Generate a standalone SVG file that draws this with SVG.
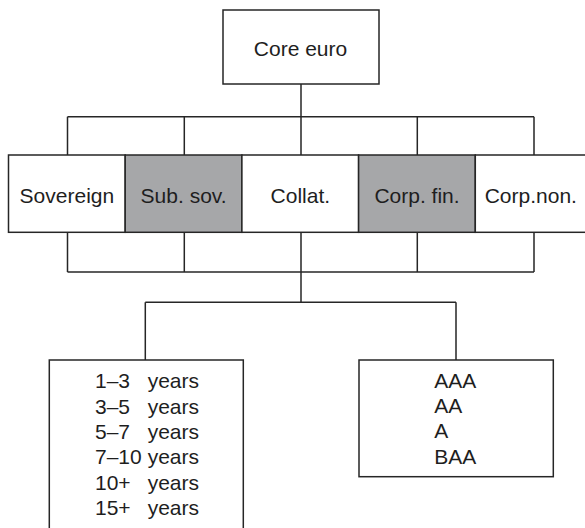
<svg xmlns="http://www.w3.org/2000/svg" width="585" height="528" viewBox="0 0 585 528">
  <style>
    .box { fill: #ffffff; stroke: #262626; stroke-width: 1.5; }
    .shade { fill: #a6a7a9; }
    .wire { fill: none; stroke: #262626; stroke-width: 1.5; }
    text { font-family: "Liberation Sans", Arial, sans-serif; font-size: 21px; fill: #1e1e1e; }
    .mid { text-anchor: middle; }
  </style>

  <rect width="585" height="528" fill="#ffffff"/>

  <!-- connectors -->
  <g id="connectors" class="wire">
    <path d="M301,84 V116.7"/>
    <path d="M67.5,116.7 H534"/>
    <path d="M67.5,116.7 V155 M184.3,116.7 V155 M301,116.7 V155 M417.3,116.7 V155 M534,116.7 V155"/>
    <path d="M67.5,232.3 V272 M184.3,232.3 V272 M301,232.3 V272 M417.3,232.3 V272 M534,232.3 V272"/>
    <path d="M67.5,272 H534"/>
    <path d="M301,272 V302.3"/>
    <path d="M145.3,302.3 H456"/>
    <path d="M145.3,302.3 V360 M456,302.3 V360"/>
  </g>

  <!-- root -->
  <g id="core-euro">
    <rect class="box" x="223" y="10" width="156" height="74"/>
    <text class="mid" x="300.5" y="55.5">Core euro</text>
  </g>

  <!-- issuer sectors -->
  <g id="sovereign">
    <rect class="box" x="8.5" y="155" width="116.7" height="77.3"/>
    <text class="mid" x="66.9" y="202.5">Sovereign</text>
  </g>
  <g id="sub-sov">
    <rect class="box shade" x="125.2" y="155" width="116.7" height="77.3"/>
    <text class="mid" x="183.6" y="202.5">Sub. sov.</text>
  </g>
  <g id="collat">
    <rect class="box" x="241.9" y="155" width="116.7" height="77.3"/>
    <text class="mid" x="300.3" y="202.5">Collat.</text>
  </g>
  <g id="corp-fin">
    <rect class="box shade" x="358.6" y="155" width="116.7" height="77.3"/>
    <text class="mid" x="417" y="202.5">Corp. fin.</text>
  </g>
  <g id="corp-non">
    <rect class="box" x="475.3" y="155" width="116.7" height="77.3"/>
    <text class="mid" x="530.8" y="202.5">Corp.non.</text>
  </g>

  <!-- maturity buckets -->
  <g id="maturity">
    <rect class="box" x="49.3" y="360" width="194" height="180"/>
    <text x="95" y="388.3">1–3</text>
    <text x="147.7" y="388.3">years</text>
    <text x="95" y="413.6">3–5</text>
    <text x="147.7" y="413.6">years</text>
    <text x="95" y="438.9">5–7</text>
    <text x="147.7" y="438.9">years</text>
    <text x="95" y="464.2">7–10</text>
    <text x="147.7" y="464.2">years</text>
    <text x="95" y="489.5">10+</text>
    <text x="147.7" y="489.5">years</text>
    <text x="95" y="514.8">15+</text>
    <text x="147.7" y="514.8">years</text>
  </g>

  <!-- rating buckets -->
  <g id="rating">
    <rect class="box" x="359" y="360" width="194.3" height="116.7"/>
    <text x="434.3" y="387.7">AAA</text>
    <text x="434.3" y="413">AA</text>
    <text x="434.3" y="438.3">A</text>
    <text x="434.3" y="463.6">BAA</text>
  </g>
</svg>
